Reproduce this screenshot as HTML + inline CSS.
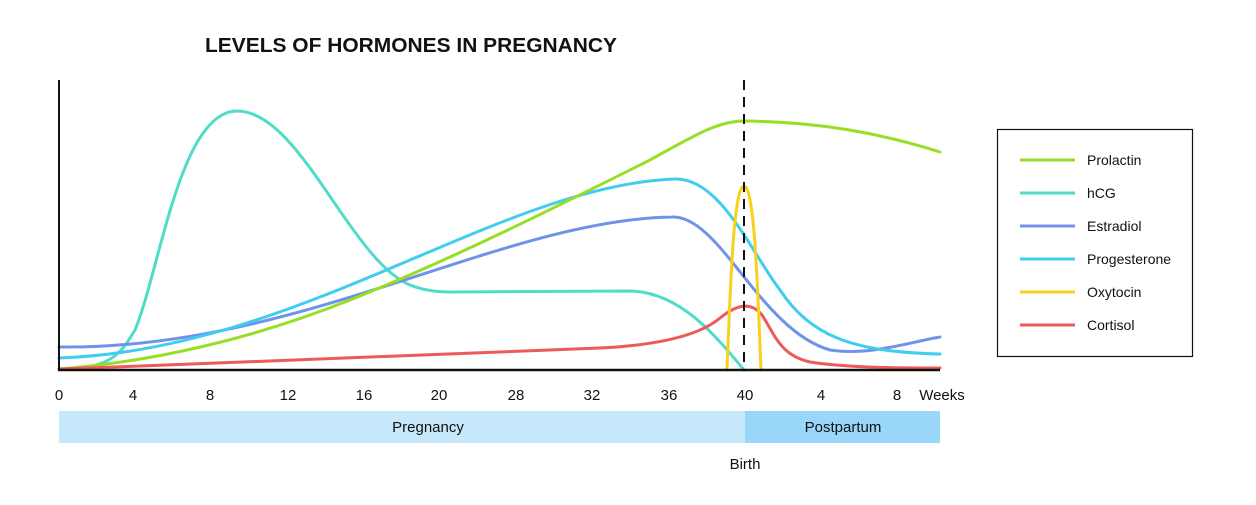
<!DOCTYPE html>
<html><head><meta charset="utf-8"><style>
body{margin:0;background:#fff;}
svg text{font-family:"Liberation Sans",sans-serif;}
</style></head><body>
<svg width="1256" height="500" viewBox="0 0 1256 500" xmlns="http://www.w3.org/2000/svg">
<rect width="1256" height="500" fill="#fff"/>
<text x="205" y="52" font-size="20" font-weight="bold" fill="#111" textLength="412" lengthAdjust="spacingAndGlyphs">LEVELS OF HORMONES IN PREGNANCY</text>
<g fill="none" stroke-width="3" stroke-linecap="round">
<path d="M59,369 C110,369 120,355 135,330 C160,270 180,111 237,111 C300,111 350,260 410,285 C425,291 440,292 450,292 L630,291 C680,292 715,335 744,370" stroke="#4fdcc8"/>
<path d="M59,347 C300,350 500,220 672,217 C720,215 760,330 830,350 C870,356 910,342 940,337" stroke="#6f93ea"/>
<path d="M59,358 C300,350 500,185 675,179 C720,178 750,250 780,290 C810,335 850,352 940,354" stroke="#40cdf0"/>
<path d="M59,369 C150,362 250,340 350,300 C450,260 550,210 650,160 C700,132 720,121 744,121 C820,122 880,133 940,152" stroke="#98de26"/>
<path d="M59,369 C250,362 450,355 600,348 C660,345 700,335 720,318 C735,306 750,300 762,315 C775,335 780,355 810,362 C850,368 900,368 940,368" stroke="#ee5a5a"/>
<path d="M727,370 C730,300 733,186 744,186 C755,186 758,300 761,370" stroke="#f8d21a"/>
</g>
<line x1="744" y1="80" x2="744" y2="370" stroke="#111" stroke-width="2" stroke-dasharray="10,7"/>
<line x1="59" y1="80" x2="59" y2="371" stroke="#111" stroke-width="2"/>
<line x1="58" y1="370" x2="940" y2="370" stroke="#111" stroke-width="2.5"/>
<g font-size="15" fill="#111" text-anchor="middle">
<text x="59" y="400">0</text><text x="133" y="400">4</text><text x="210" y="400">8</text><text x="288" y="400">12</text><text x="364" y="400">16</text><text x="439" y="400">20</text><text x="516" y="400">28</text><text x="592" y="400">32</text><text x="669" y="400">36</text><text x="745" y="400">40</text><text x="821" y="400">4</text><text x="897" y="400">8</text><text x="942" y="400">Weeks</text>
</g>
<rect x="59" y="411" width="686" height="32" fill="#c7e8fb"/>
<rect x="745" y="411" width="195" height="32" fill="#99d6fa"/>
<g font-size="15" fill="#111" text-anchor="middle">
<text x="428" y="432">Pregnancy</text><text x="843" y="432">Postpartum</text><text x="745" y="469">Birth</text>
</g>
<rect x="997.5" y="129.5" width="195" height="227" fill="#fff" stroke="#111" stroke-width="1.2"/>
<g stroke-width="3">
<line x1="1020" y1="160" x2="1075" y2="160" stroke="#98de26"/>
<line x1="1020" y1="193" x2="1075" y2="193" stroke="#4fdcc8"/>
<line x1="1020" y1="226" x2="1075" y2="226" stroke="#6f93ea"/>
<line x1="1020" y1="259" x2="1075" y2="259" stroke="#40cdf0"/>
<line x1="1020" y1="292" x2="1075" y2="292" stroke="#f8d21a"/>
<line x1="1020" y1="325" x2="1075" y2="325" stroke="#ee5a5a"/>
</g>
<g font-size="14" fill="#111">
<text x="1087" y="165">Prolactin</text><text x="1087" y="198">hCG</text><text x="1087" y="231">Estradiol</text><text x="1087" y="264">Progesterone</text><text x="1087" y="297">Oxytocin</text><text x="1087" y="330">Cortisol</text>
</g>
</svg>
</body></html>
